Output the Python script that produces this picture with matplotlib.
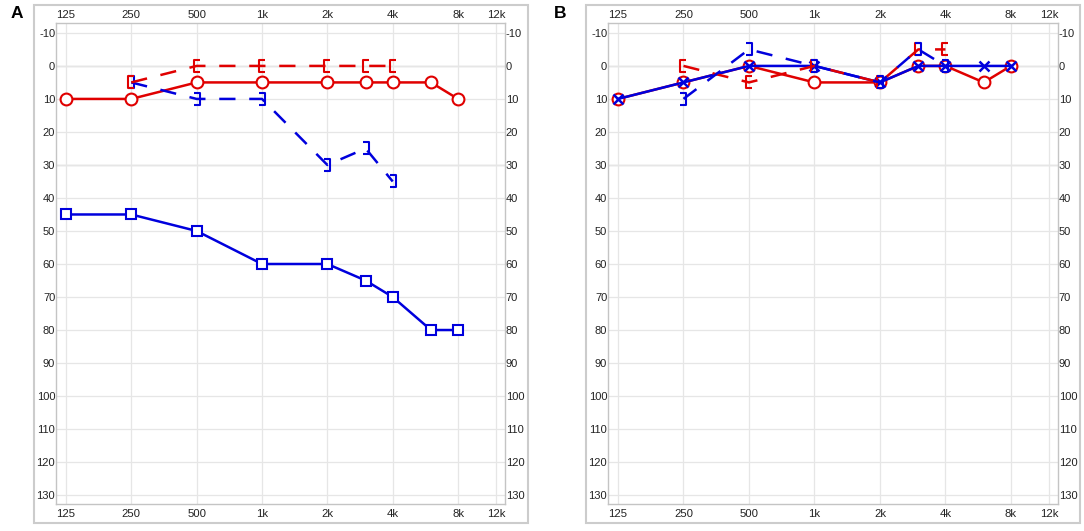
import matplotlib
matplotlib.use('Agg')
import matplotlib.pyplot as plt
from matplotlib.path import Path
from matplotlib.patches import Rectangle

plt.rcParams['font.family'] = ['Liberation Sans', 'DejaVu Sans']

# frequencies (Hz)
freqs_ac = [125, 250, 500, 1000, 2000, 3000, 4000, 6000, 8000]
freqs_bc = [250, 500, 1000, 2000, 3000, 4000]

# panel A thresholds (dB HL)
a_right_ac = [10, 10, 5, 5, 5, 5, 5, 5, 10]
a_left_ac = [45, 45, 50, 60, 60, 65, 70, 80, 80]
a_right_bc = [5, 0, 0, 0, 0, 0]
a_left_bc = [5, 10, 10, 30, 25, 35]

# panel B thresholds (dB HL)
b_right_ac = [10, 5, 0, 5, 5, 0, 0, 5, 0]
b_left_ac = [10, 5, 0, 0, 5, 0, 0, 0, 0]
b_right_bc = [0, 5, 0, 5, -5, -5]
b_left_bc = [10, -5, 0, 5, -5, 0]

tick_freqs = [125, 250, 500, 1000, 2000, 4000, 8000, 12000]
tick_labels = ['125', '250', '500', '1k', '2k', '4k', '8k', '12k']
db_ticks = list(range(-10, 131, 10))

RED = '#e00000'
BLUE = '#0000dd'

# bracket markers for bone conduction
lb = Path([(0.55, 1), (-0.55, 1), (-0.55, -1), (0.55, -1)],
          [Path.MOVETO, Path.LINETO, Path.LINETO, Path.LINETO])
rb = Path([(-0.55, 1), (0.55, 1), (0.55, -1), (-0.55, -1)],
          [Path.MOVETO, Path.LINETO, Path.LINETO, Path.LINETO])

W, H = 1084, 531
fig = plt.figure(figsize=(W / 100, H / 100), dpi=100)


def px_axes(x0, y0, x1, y1):
    return fig.add_axes([x0 / W, 1 - y1 / H, (x1 - x0) / W, (y1 - y0) / H])


def frame(x0, y0, x1, y1):
    fig.patches.append(Rectangle((x0 / W, 1 - y1 / H), (x1 - x0) / W, (y1 - y0) / H,
                                 transform=fig.transFigure, fill=False,
                                 edgecolor='#cccccc', lw=1.5))


def setup(ax):
    ax.set_xscale('log', base=2)
    ax.set_xlim(112.5, 13160)
    ax.set_ylim(132.7, -13)
    ax.set_xticks(tick_freqs)
    ax.set_xticklabels(tick_labels)
    ax.minorticks_off()
    ax.set_yticks(db_ticks)
    ax.set_yticklabels([str(v) for v in db_ticks])
    ax.tick_params(axis='x', length=0, labelsize=8.2, pad=3.5, colors='#222222')
    ax.tick_params(axis='y', length=0, labelsize=8.0, pad=0.6, right=True, labelright=True,
                   colors='#222222')
    # top frequency labels
    for f, lab in zip(tick_freqs, tick_labels):
        ax.text(f, 1 + 2.5 / 481, lab, transform=ax.get_xaxis_transform(),
                ha='center', va='bottom', fontsize=8.2, color='#222222')
    ax.grid(True, color='#e6e6e6', lw=0.9)
    ax.set_axisbelow(True)
    for v in (0, 30):
        ax.axhline(v, color='#b8b8b8', lw=0.9, zorder=0.5)
    for s in ax.spines.values():
        s.set_color('#c4c4c4')
        s.set_linewidth(1.0)


lw = 1.8
dash = (0, (6.5, 5.5))

# ---- panel A
frame(34, 5, 528, 523)
axA = px_axes(56, 23, 505, 504)
setup(axA)
axA.plot(freqs_ac, a_left_ac, color=BLUE, lw=lw, marker='s', ms=7.5,
         mfc='white', mec=BLUE, mew=1.5)
axA.plot(freqs_ac, a_right_ac, color=RED, lw=lw, marker='o', ms=8.5,
         mfc='white', mec=RED, mew=1.5)
axA.plot(freqs_bc, a_left_bc, color=BLUE, lw=lw, ls=dash, marker=rb, ms=8,
         mfc='none', mec=BLUE, mew=1.5)
axA.plot(freqs_bc, a_right_bc, color=RED, lw=lw, ls=dash, marker=lb, ms=8,
         mfc='none', mec=RED, mew=1.5)
fig.text(17 / W, 1 - 14 / H, 'A', fontsize=12.5, fontweight='bold', ha='center', va='center')

# ---- panel B
frame(586, 5, 1080, 523)
axB = px_axes(608, 23, 1058, 504)
setup(axB)
axB.plot(freqs_ac, b_right_ac, color=RED, lw=lw, marker='o', ms=8.5,
         mfc='white', mec=RED, mew=1.5)
axB.plot(freqs_ac, b_left_ac, color=BLUE, lw=lw, marker='x', ms=7,
         mec=BLUE, mew=1.8)
axB.plot(freqs_bc, b_right_bc, color=RED, lw=lw, ls=dash, marker=lb, ms=8,
         mfc='none', mec=RED, mew=1.5)
axB.plot(freqs_bc, b_left_bc, color=BLUE, lw=lw, ls=dash, marker=rb, ms=8,
         mfc='none', mec=BLUE, mew=1.5)
fig.text(560 / W, 1 - 14 / H, 'B', fontsize=12.5, fontweight='bold', ha='center', va='center')

fig.savefig('out.png', dpi=100)
